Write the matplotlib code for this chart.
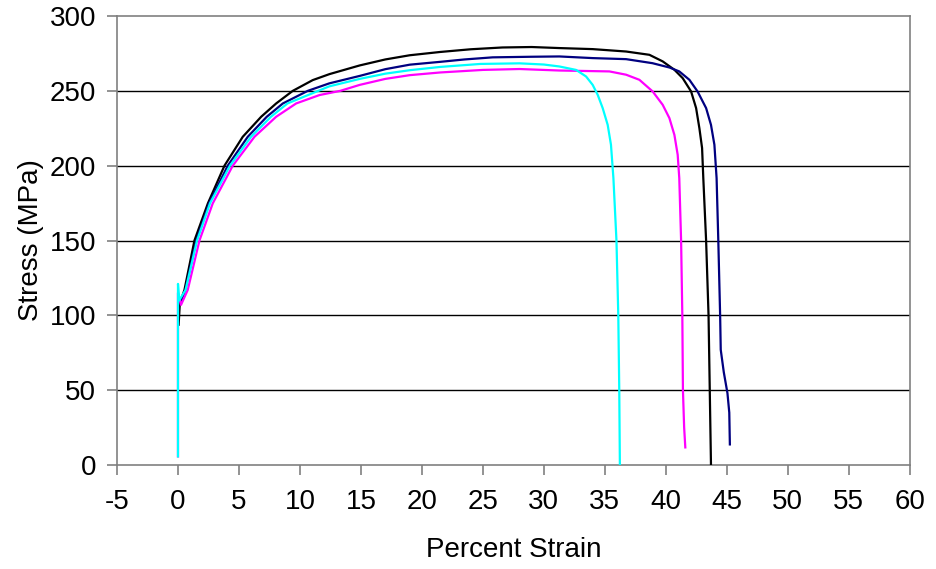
import matplotlib
matplotlib.use("Agg")
import matplotlib.pyplot as plt

plt.rcParams['font.family'] = ['Liberation Sans', 'DejaVu Sans']

# Black specimen
black_strain = [0.05, 0.15, 0.53, 1.35, 2.45, 3.81, 5.31, 6.82, 8.05, 9.41, 11.05, 12.42, 14.9,
                17.0, 19.0, 21.5, 24.0, 26.6, 29.0, 31.27, 34.0, 36.74, 38.65, 39.74, 40.7,
                41.38, 42.07, 42.48, 42.75, 42.97, 43.07, 43.3, 43.5, 43.6, 43.7]
black_stress = [93, 108, 117, 150, 174.8, 200, 219.3, 232.7, 241.6, 250, 257.2, 261.2, 267,
                271, 273.8, 276, 277.8, 279, 279.3, 278.6, 277.9, 276.3, 274.1, 269.7, 264.1,
                258.5, 249.6, 238.5, 225, 211.8, 191.7, 150, 100, 50, 0]

# Navy specimen
navy_strain = [0.2, 0.6, 1.5, 2.55, 4.08, 5.72, 7.28, 8.6, 10.64, 12.4, 14.9, 17.0, 19.0, 21.5,
               23.5, 25.8, 29.0, 31.27, 34.0, 36.74, 38.9, 40.3, 41.1, 41.93, 42.6, 43.3, 43.7,
               43.98, 44.16, 44.3, 44.45, 44.5, 44.75, 45.05, 45.2, 45.25]
navy_stress = [108, 117, 150, 175, 200, 219.3, 232.7, 241.6, 250, 255, 260, 264.5, 267.5, 269.4,
               271, 272.4, 272.8, 273, 271.9, 271.2, 268.5, 265.6, 263, 257.4, 249.6, 238.5,
               227.3, 214, 191.7, 150, 100, 77, 62, 48, 35, 13]

# Magenta specimen
magenta_strain = [0.0, 0.0, 0.25, 0.8, 1.76, 2.85, 4.49, 6.27, 8.05, 9.69, 11.6, 13.3, 14.9,
                  17.0, 19.0, 21.5, 25.0, 28.0, 31.27, 35.37, 36.74, 37.83, 38.92, 39.74, 40.29,
                  40.7, 40.97, 41.1, 41.25, 41.35, 41.4, 41.5, 41.6]
magenta_stress = [5, 115, 107, 117, 150, 174.8, 200, 219.3, 232.7, 241.6, 247.2, 250, 254,
                  258, 260.5, 262.3, 264, 264.6, 263.6, 263, 260.8, 257.4, 249.6, 240.7, 231.8,
                  220.6, 207.3, 191.7, 150, 100, 50, 25, 11]

# Cyan specimen
cyan_strain = [0.0, 0.0, 0.1, 0.62, 1.56, 2.63, 4.26, 5.99, 7.62, 8.98, 11.5, 12.4, 14.9, 17.0,
               19.0, 21.5, 24.8, 28.0, 30.0, 31.27, 32.64, 33.46, 34.0, 34.41, 34.82, 35.23,
               35.5, 35.7, 35.95, 36.1, 36.18, 36.23]
cyan_stress = [5, 121, 110, 117, 150, 175, 200, 219.3, 232.7, 241.6, 250, 253, 258, 261.5,
               263.8, 266, 268, 268.4, 267.6, 266.3, 264, 259.6, 254, 247.4, 238.5, 227.3,
               214, 191.7, 150, 100, 50, 0]

x_ticks = list(range(-5, 61, 5))
y_ticks = list(range(0, 301, 50))

fig = plt.figure(figsize=(9.36, 5.69), dpi=100)
ax = fig.add_axes([0.125, 0.1828, 0.847, 0.789])

line_kw = dict(lw=1.6, zorder=3, solid_joinstyle='round', solid_capstyle='butt')
ax.plot(black_strain, black_stress, color='black', **line_kw)
ax.plot(navy_strain, navy_stress, color='#000080', **line_kw)
ax.plot(magenta_strain, magenta_stress, color='#FF00FF', **line_kw)
ax.plot(cyan_strain, cyan_stress, color='#00FFFF', **line_kw)

ax.set_xlim(-5, 60)
ax.set_ylim(0, 300)
ax.set_xticks(x_ticks)
ax.set_yticks(y_ticks)
ax.set_xticklabels([str(v) for v in x_ticks])
ax.set_yticklabels([str(v) for v in y_ticks])

for v in y_ticks[1:-1]:
    ax.axhline(v, color='black', lw=1.0, zorder=1)

for s in ax.spines.values():
    s.set_color('#808080')
    s.set_linewidth(1.2)

ax.tick_params(axis='both', direction='out', length=7, width=1.2, color='#808080',
               labelsize=20, labelcolor='black')
ax.tick_params(axis='x', pad=10)
ax.tick_params(axis='y', pad=8)

ax.set_xlabel('Percent Strain', fontsize=20, labelpad=16)
ax.set_ylabel('Stress (MPa)', fontsize=20, labelpad=4)

fig.savefig('out.png', dpi=100, facecolor='white')
